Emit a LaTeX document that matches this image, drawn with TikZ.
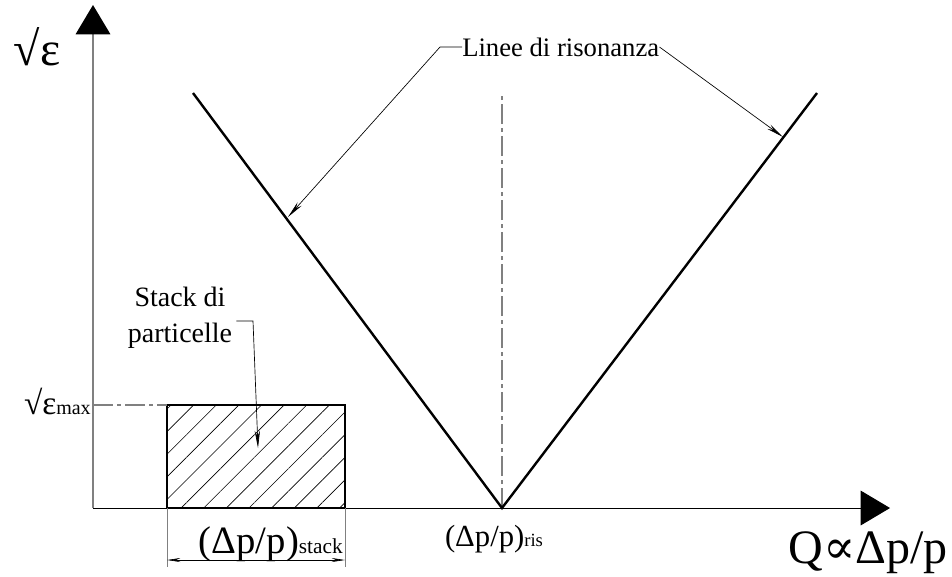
\documentclass[tikz,border=0pt]{standalone}
\usepackage{fontspec}
\setmainfont{Liberation Serif}
\newfontfamily\symfont{DejaVu Serif}
\usetikzlibrary{arrows.meta, patterns.meta, positioning}

\newcommand{\smalltxt}[2][12]{{\fontsize{#1}{#1}\selectfont #2}}

\begin{document}
\begin{tikzpicture}[
        x = 0.75pt, y = -0.75pt,
        >= {Stealth[length = 13pt, width = 4pt]},
        axis/.style = {-{Triangle[length = 22pt, width = 26pt, color = black]}},
        resline/.style = {line width = 1.8pt},
        centreline/.style = {gray, line width = 0.8pt, dash pattern = on 15pt off 3pt on 3pt off 3pt},
        leader/.style = {->, line width = 0.5pt},
        extline/.style = {gray, line width = 0.6pt},
        hugetext/.style = {font = \fontsize{36}{38}\selectfont, inner sep = 0pt},
        largetext/.style = {font = \fontsize{29}{31}\selectfont, inner sep = 0pt},
        midtext/.style = {font = \fontsize{20}{26}\selectfont, inner sep = 0pt},
        stackbox/.style = {line width = 1.6pt, pattern = {Lines[angle = 45, distance = 12pt, line width = 0.5pt]}}
    ]
    \useasboundingbox (0,0) rectangle (952,576);

    % axes
    \coordinate (O) at (93,508);
    \coordinate (ytip) at (93,5);
    \coordinate (xtip) at (890,508);
    \draw[axis, gray, line width = 1pt] (O) -- (ytip);
    \draw[axis, line width = 0.7pt] (O) -- (xtip);
    \node[hugetext] (eps) at (37,47) {√ε};
    \node[hugetext, anchor = base east] (qlabel) at (948,563) {Q{\symfont ∝}Δp/p};

    % resonance lines
    \coordinate (ris) at (502,508);
    \coordinate (Ltop) at (193,93);
    \coordinate (Rtop) at (817,93);
    \coordinate (ctop) at (502,95);
    \draw[centreline] (ris) -- (ctop);
    \draw[resline, line join = miter] (Ltop) -- (ris) -- (Rtop);
    \node[midtext, font = \fontsize{23}{25}\selectfont, anchor = base] (rislabel) at (494,546) {(Δp/p)\smalltxt[14]{ris}};

    % particle stack
    \coordinate (sA) at (167,405);
    \coordinate (sB) at (345,508);
    \draw[stackbox] (sA) rectangle (sB);
    \coordinate (ymax) at (93,405);
    \draw[centreline] (ymax) -- (sA);
    \node[largetext, font = \fontsize{25}{27}\selectfont, anchor = base east] (epsmax) at (91,414) {√ε\smalltxt[15]{max}};

    % width of the stack
    \coordinate (dA) at (167,567);
    \coordinate (dB) at (345,567);
    \coordinate (dimA) at (167,560);
    \coordinate (dimB) at (345,560);
    \draw[extline] (sA |- sB) -- (dA);
    \draw[extline] (sB) -- (dB);
    \draw[{Stealth[length = 10pt, width = 3pt]}-{Stealth[length = 10pt, width = 3pt]}, line width = 0.5pt] (dimA) -- (dimB);
    \node[largetext, anchor = base east] (stacklabel) at (343,553) {(Δp/p)\smalltxt[16]{stack}};

    % labels with leaders
    \node[midtext, font = \fontsize{21}{27}\selectfont, align = center] (stacktext) at (180,318) {Stack di\\particelle};
    \coordinate (stackknee) at (253,321);
    \coordinate (stackpoint) at (258,448);
    \draw[leader] (stacktext.east |- stackknee) ++(4,0) -- (stackknee) -- (stackpoint);

    \node[midtext, anchor = west] (linee) at (462,47) {Linee di risonanza};
    \coordinate (lknee) at (440,47);
    \coordinate (lpoint) at (288,217);
    \coordinate (rpoint) at (783,137);
    \draw[leader] (linee.west) -- (lknee) -- (lpoint);
    \draw[leader] (linee.east) -- (rpoint);
\end{tikzpicture}
\end{document}
